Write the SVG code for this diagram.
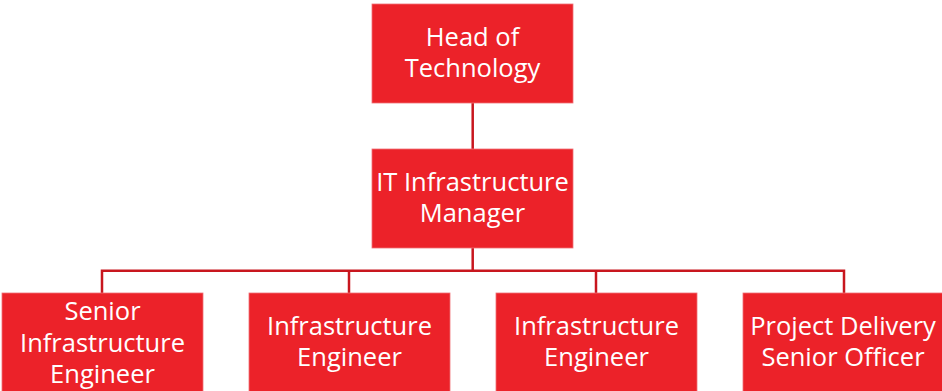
<svg xmlns="http://www.w3.org/2000/svg" width="942" height="391" viewBox="0 0 942 391">
<style>
.box{fill:#EC2229;stroke:#F07077;stroke-width:0.8}
.t{font-family:"Open Sans","Liberation Sans",sans-serif;font-size:25.5px;fill:#FFFFFF;text-anchor:middle}
.c{stroke:#C8161E;stroke-width:2.5;fill:none}
</style>
<rect width="942" height="391" fill="#FFFFFF"/>
<g id="connectors">
<line class="c" x1="472.7" y1="103" x2="472.7" y2="149"/>
<line class="c" x1="472.7" y1="248" x2="472.7" y2="271"/>
<polyline class="c" points="102,293 102,270.7 844,270.7 844,293"/>
<line class="c" x1="349" y1="270.7" x2="349" y2="293"/>
<line class="c" x1="596" y1="270.7" x2="596" y2="293"/>
</g>
<g id="head">
<rect class="box" x="372" y="4" width="201" height="99"/>
<text class="t" x="472.5" y="46">Head of</text>
<text class="t" x="472.5" y="77">Technology</text>
</g>
<g id="manager">
<rect class="box" x="372" y="149" width="201" height="99"/>
<text class="t" x="472.5" y="191">IT Infrastructure</text>
<text class="t" x="472.5" y="222">Manager</text>
</g>
<g id="senior-engineer">
<rect class="box" x="2" y="293" width="201" height="100"/>
<text class="t" x="102.5" y="320">Senior</text>
<text class="t" x="102.5" y="351.5">Infrastructure</text>
<text class="t" x="102.5" y="383">Engineer</text>
</g>
<g id="engineer-1">
<rect class="box" x="249" y="293" width="201" height="100"/>
<text class="t" x="349.5" y="335">Infrastructure</text>
<text class="t" x="349.5" y="366">Engineer</text>
</g>
<g id="engineer-2">
<rect class="box" x="496" y="293" width="201" height="100"/>
<text class="t" x="596.5" y="335">Infrastructure</text>
<text class="t" x="596.5" y="366">Engineer</text>
</g>
<g id="project-delivery">
<rect class="box" x="743" y="293" width="201" height="100"/>
<text class="t" x="843" y="335">Project Delivery</text>
<text class="t" x="843" y="366">Senior Officer</text>
</g>
</svg>
